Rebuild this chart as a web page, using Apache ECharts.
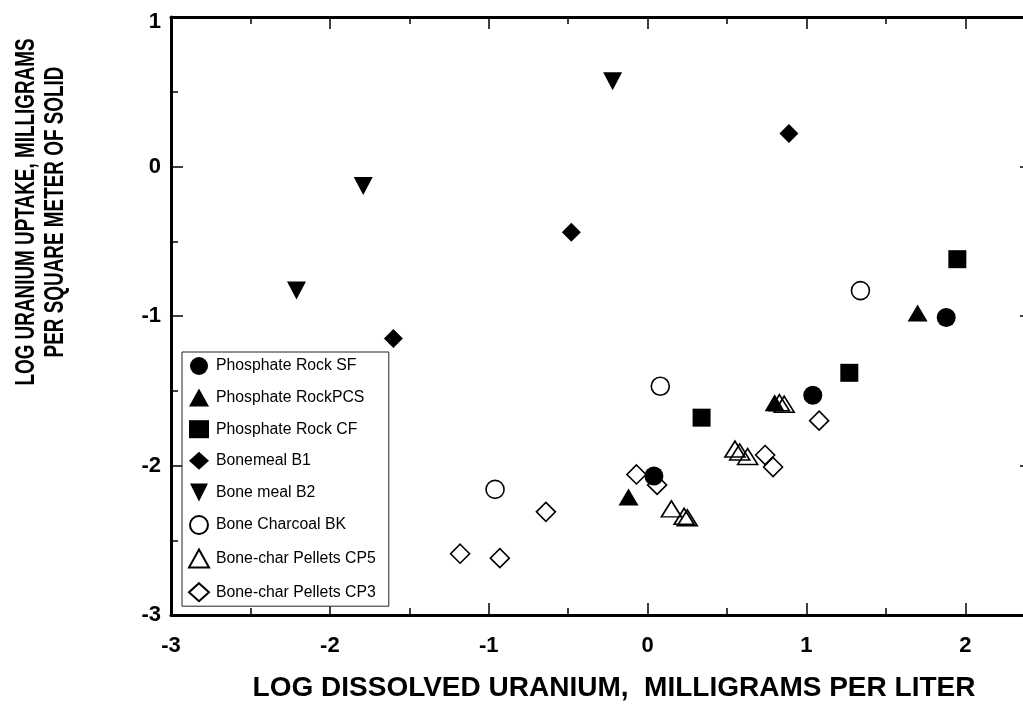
<!DOCTYPE html>
<html>
<head>
<meta charset="utf-8">
<script src="https://cdn.jsdelivr.net/npm/echarts@6/dist/echarts.min.js"></script>
<style>
html,body{margin:0;padding:0;background:#fff;}
#chart{width:1023px;height:706px;}
</style>
</head>
<body>
<div id="chart"></div>
<script>
// ---- data ----
const seriesNames = ['Phosphate Rock SF','Phosphate RockPCS','Phosphate Rock CF','Bonemeal B1','Bone meal B2','Bone Charcoal BK','Bone-char Pellets CP5','Bone-char Pellets CP3'];
const sfX = [1.88, 1.04, 0.04];
const sfY = [-1.01, -1.53, -2.07];
const pcsX = [1.70, 0.80, -0.12];
const pcsY = [-0.98, -1.58, -2.21];
const cfX = [1.95, 1.27, 0.34];
const cfY = [-0.62, -1.38, -1.68];
const b1X = [0.89, -0.48, -1.60];
const b1Y = [0.22, -0.44, -1.15];
const b2X = [-0.22, -1.79, -2.21];
const b2Y = [0.57, -0.13, -0.83];
const bkX = [1.34, 0.08, -0.96];
const bkY = [-0.83, -1.47, -2.16];
const cp5X = [0.83, 0.86, 0.55, 0.58, 0.63, 0.15, 0.23, 0.25];
const cp5Y = [-1.58, -1.59, -1.89, -1.91, -1.94, -2.29, -2.34, -2.35];
const cp3X = [1.08, 0.74, 0.79, -0.07, 0.06, -0.64, -1.18, -0.93];
const cp3Y = [-1.70, -1.93, -2.01, -2.06, -2.13, -2.31, -2.59, -2.62];
const xTitle = 'LOG DISSOLVED URANIUM,  MILLIGRAMS PER LITER';
const yTitle1 = 'LOG URANIUM UPTAKE, MILLIGRAMS';
const yTitle2 = 'PER SQUARE METER OF SOLID';

const X_MIN = -3, X_MAX = 2.42, Y_MIN = -3, Y_MAX = 1;
const FONT = '"Liberation Sans", Arial, Helvetica, sans-serif';
const DOWN_TRI = 'path://M0,0L2,0L1,2Z';

function pairs(xs, ys){ return xs.map((x,i)=>[x, ys[i]]); }

const filled = {color:'#000', borderWidth:0, opacity:1};
const open = {color:'rgba(255,255,255,0)', borderColor:'#000', borderWidth:1.6, opacity:1};

function sc(name, xs, ys, symbol, size, style, z){
  return {
    name, type:'scatter', data: pairs(xs, ys), symbol, symbolSize: size,
    itemStyle: style, z: z,
    xAxisIndex:0, yAxisIndex:0, emphasis:{disabled:true}, silent:true
  };
}

const intLabel = v => (Math.abs(v - Math.round(v)) < 1e-9 ? String(Math.round(v)) : '');
const yLabel = v => (v === Y_MAX ? '{top|' + v + '}' : String(v));

const chart = echarts.init(document.getElementById('chart'), null, {renderer:'canvas'});
chart.setOption({
  animation:false,
  backgroundColor:'#fff',
  grid:{left:171, top:17, width:861, height:598, containLabel:false, outerBoundsMode:'none'},
  xAxis:[
    {type:'value', position:'bottom', min:X_MIN, max:X_MAX, interval:1,
     axisLine:{show:true, onZero:false, lineStyle:{color:'#000', width:3}},
     axisTick:{show:true, inside:true, length:12, lineStyle:{color:'#000', width:1.5}},
     axisLabel:{show:true, margin:20, color:'#000', fontSize:22, fontWeight:'bold', fontFamily:FONT, formatter:intLabel},
     splitLine:{show:false}},
    {type:'value', position:'bottom', min:X_MIN, max:X_MAX, interval:0.5,
     axisLine:{show:false, onZero:false},
     axisTick:{show:true, inside:true, length:7, lineStyle:{color:'#000', width:1.5}},
     axisLabel:{show:false}, splitLine:{show:false}},
    {type:'value', position:'top', min:X_MIN, max:X_MAX, interval:1,
     axisLine:{show:true, onZero:false, lineStyle:{color:'#000', width:3}},
     axisTick:{show:true, inside:true, length:12, lineStyle:{color:'#000', width:1.5}},
     axisLabel:{show:false}, splitLine:{show:false}},
    {type:'value', position:'top', min:X_MIN, max:X_MAX, interval:0.5,
     axisLine:{show:false, onZero:false},
     axisTick:{show:true, inside:true, length:7, lineStyle:{color:'#000', width:1.5}},
     axisLabel:{show:false}, splitLine:{show:false}}
  ],
  yAxis:[
    {type:'value', position:'left', min:Y_MIN, max:Y_MAX, interval:1,
     axisLine:{show:true, onZero:false, lineStyle:{color:'#000', width:3}},
     axisTick:{show:true, inside:true, length:12, lineStyle:{color:'#000', width:1.5}},
     minorTick:{show:true, splitNumber:2, length:7, lineStyle:{color:'#000', width:1.5}},
     axisLabel:{show:true, margin:10, color:'#000', fontSize:22, fontWeight:'bold', fontFamily:FONT,
       formatter:yLabel,
       rich:{top:{fontSize:22, fontWeight:'bold', fontFamily:FONT, color:'#000', padding:[10,0,0,0]}}},
     splitLine:{show:false}},
    {type:'value', position:'right', min:Y_MIN, max:Y_MAX, interval:1,
     axisLine:{show:true, onZero:false, lineStyle:{color:'#000', width:3}},
     axisTick:{show:true, inside:true, length:12, lineStyle:{color:'#000', width:1.5}},
     minorTick:{show:true, splitNumber:2, length:7, lineStyle:{color:'#000', width:1.5}},
     axisLabel:{show:false}, splitLine:{show:false}}
  ],
  legend:{
    show:true, orient:'vertical', left:182, top:352,
    data: seriesNames,
    itemWidth:20, itemHeight:18, itemGap:13.6,
    padding:[5,13,4,6],
    borderColor:'#222', borderWidth:1, backgroundColor:'#fff',
    textStyle:{color:'#000', fontSize:15.8, fontFamily:FONT, padding:[0,0,0,2]},
    selectedMode:false
  },
  series:[
    sc(seriesNames[0], sfX, sfY, 'circle', 19, filled, 5),
    sc(seriesNames[1], pcsX, pcsY, 'triangle', [20,17], filled, 5),
    sc(seriesNames[2], cfX, cfY, 'rect', 18, filled, 5),
    sc(seriesNames[3], b1X, b1Y, 'diamond', [19,19], filled, 5),
    sc(seriesNames[4], b2X, b2Y, DOWN_TRI, [19,18], filled, 5),
    sc(seriesNames[5], bkX, bkY, 'circle', 18, open, 3),
    sc(seriesNames[6], cp5X, cp5Y, 'triangle', [20,16], open, 3),
    sc(seriesNames[7], cp3X, cp3Y, 'diamond', [19,19], open, 3)
  ],
  graphic:[
    {type:'text', x:614, y:688, silent:true,
     style:{text:xTitle, font:'bold 28px ' + FONT, fill:'#000', align:'center', verticalAlign:'middle'}},
    {type:'text', x:27, y:212, rotation:Math.PI/2, scaleX:0.70, silent:true,
     style:{text:yTitle1, font:'bold 27px ' + FONT, fill:'#000', align:'center', verticalAlign:'middle'}},
    {type:'text', x:56, y:212, rotation:Math.PI/2, scaleX:0.70, silent:true,
     style:{text:yTitle2, font:'bold 27px ' + FONT, fill:'#000', align:'center', verticalAlign:'middle'}}
  ]
});
</script>
</body>
</html>
